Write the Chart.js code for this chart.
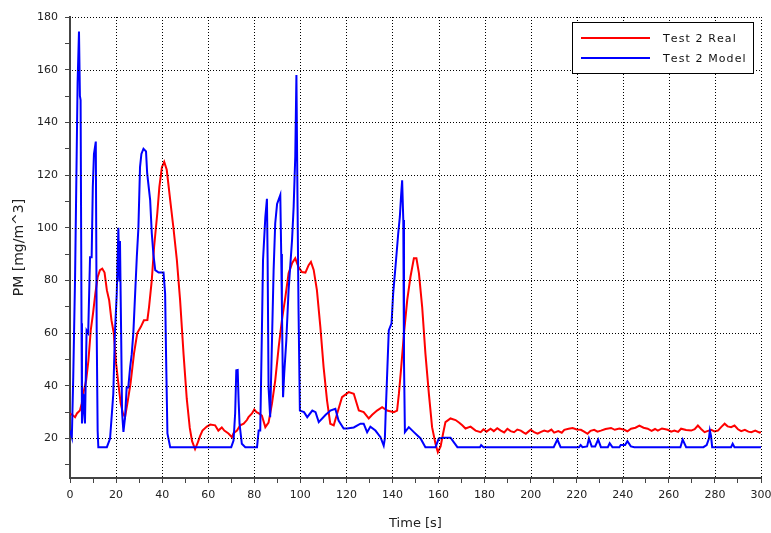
<!DOCTYPE html>
<html>
<head>
<meta charset="utf-8">
<script src="https://cdn.jsdelivr.net/npm/chart.js@4"></script>
<style>
  body { margin: 0; background: #fff; }
</style>
</head>
<body>
<canvas id="pmChart" width="771" height="533"></canvas>
<script>
// Test 2 Real (red)
const realTime = [0,1,2.2,3,4.3,5.1,6,7,8,9,10,11,12,13,14,15,16,17,18,19,20,21,22,23,23.9,25,26.3,27.8,29.2,30.7,32.1,33.6,34.3,35.5,36.5,37.9,38.8,39.9,40.9,42,43.5,44.9,46.4,47.8,49.3,50.7,52,53,54.3,55.5,56.5,57.5,59.4,60.9,63,64.4,65.9,67,68.8,70.3,71,72.5,73.9,75.4,76.8,77.5,79,80,81,82,83.3,84.8,86.2,87.7,89.1,90.6,92,93.5,94.9,96.4,97.8,99.2,100.7,102.2,103.6,104.6,105.8,107.2,108.7,110.1,111.6,113,114.5,116,118.1,121,123.2,125.4,127.5,129.7,131.2,133.3,135.5,137.7,140.6,142,142.8,143.8,145,146.4,147.8,149.3,150.4,151.5,152.9,154.3,155.8,157.2,158.7,159.7,160.9,162,163,165.2,167.4,169,170.3,171.7,173.9,176.1,178.3,179.5,180.8,182.6,184,185.5,187,188.5,189.9,191.3,192.8,194.2,195.7,197,197.9,199,200,201.5,203,204.5,205.9,207.5,209,210.2,212,213.5,214.6,216.5,218.2,220,221.8,223.2,224.7,226,227.6,229,230.5,232.5,234.9,236.5,238.5,240.7,242,243.6,245.5,247.2,249,250.8,252.5,254,255.2,257,259.5,261,262.4,264,265.3,267.5,269.7,271.2,272.6,274,275.5,277,278.4,279.8,281.3,282.8,284.2,285.5,287,288.5,290,291.4,293,294.5,295.8,297.5,299.4,300];
const realPM = [29.4,29,28.1,29.5,30.6,33.3,38,42,49.6,61,67.5,75,81.2,83.9,84.5,83,76.3,72.5,64.9,60,48.5,40.9,33.3,29.5,28.1,33.8,41,52.3,60,62.3,64.9,65,69.8,80,92.6,105.5,115.5,123,125,122,110.5,100,87.7,72.5,52,35,24,19,16,18.5,21,23,24.5,25.3,25,23,24.2,23,21.9,20.5,22,23,25,25.6,27,28.1,29.5,31,30,29.5,28.7,24.3,26,33.3,42,54.7,64.9,73.7,82.7,86.5,88.4,85.1,83.2,83,85.8,87,84,76.3,62.3,47.1,34.4,25.6,25,29.5,35.7,37.6,37,30.6,30,27.6,29,30.6,31.9,30.6,30,30.6,37,47.1,59.9,72.5,81.3,88.4,88.4,82.7,69.9,52.3,37,24.3,17.9,14.8,17,22,26.2,27.6,27,26,25,23.8,24.5,23,22.4,23.5,22.6,23.7,22.8,23.9,23,22.3,23.7,22.8,22.4,23.4,23,22.2,21.8,22.6,23.3,22.4,21.8,22.5,23,22.6,23.4,22.2,22.8,22.2,23.3,23.7,24,23.4,23.3,22.6,21.8,22.9,23.3,22.6,23,23.6,24,23.3,23.8,23.3,22.7,23.7,24.1,24.9,24.1,23.7,22.9,23.6,23,23.8,23.3,22.6,23,22.5,23.7,23.2,23,23.5,24.9,23.6,22.4,22.9,23.3,22.7,23,24.4,25.6,24.6,24.3,24.9,23.5,22.8,23.3,22.6,22.4,23,22.2,22.5];

// Test 2 Model (blue)
const modelTime = [0,0.8,1.4,2.2,2.9,3.3,3.9,4.3,4.6,5,5.2,5.8,6.5,7.2,7.9,8.7,9.4,9.9,10.4,11.2,11.6,12,12.3,16,17.4,18.8,19.5,20.3,21,21.4,21.7,22.2,22.6,23.2,23.9,24.6,25.3,26.1,26.8,27.5,29,29.7,30.4,31,31.9,33,33.5,34.8,35.5,36.2,37,38.5,40.6,41.3,41.7,42.3,43.5,70,71,71.7,72.2,72.8,73.2,73.6,74.6,76.1,81.2,81.9,82.6,83.3,83.8,84.8,85.5,85.8,86.2,86.9,87.7,88.4,89.1,89.9,91.3,91.7,92,92.5,93,93.9,94.9,96.4,97.1,97.8,98.3,98.8,99.2,99.8,101.6,103,105.2,106.6,108,111,112.4,113,115.2,116.6,118.8,120.3,123.2,126.1,127.5,129,130.4,132.6,134.8,136.2,136.7,137,137.7,138.4,139.6,140.3,141.3,142.5,143.2,143.8,144.2,144.7,145,145.4,147.1,149.3,152.2,154.3,158.7,160.1,162.3,165.2,168.2,178,178.5,179.5,210,211.6,213,221,221.7,222.5,224.5,225.3,226.5,228,229.3,230.5,233.5,234.3,235.5,238.5,239.1,241,242,243.5,245,265,266,267.5,275,276.4,277.4,277.8,278.3,278.8,287,287.7,288.5,300];
const modelPM = [23,20.5,43,81,128,155,174.5,150,148.5,63.7,25.7,37,25.7,61,60,88.8,88.8,115.5,128,132.7,60,23,16.7,16.7,20,37,60,75,100,80,95,60,30,22.5,28,39.4,39.4,47,52,60,88.8,100,123,128,130,129,120.7,110.5,98,90,83.9,83,83,75,52,21.9,16.7,16.7,19.2,29.5,45.9,46,34.4,25.6,18,16.7,16.7,23,23,60,87.7,104,111,87.7,39.5,28.1,57.3,83.9,101.7,109,112.4,90,70,35.7,44.6,57,76.3,95.3,108,127,158,108,70,30.6,30,28.1,30.6,30,26.2,29,30,30.6,31.3,26.8,23.8,23.8,24.2,25.6,25.6,22.4,24.5,23,20.5,17.3,20,28.1,44.6,61,63.7,75,85.1,97.8,104.1,113,118,102.9,49.6,22.4,24.3,22.4,20,16.7,16.7,20,20.3,20.3,16.7,16.7,17.5,16.7,16.7,19.6,16.7,16.7,17.5,16.7,17,20,17,17,19.6,16.7,16.7,18.2,16.7,16.7,17.5,17.5,19,17,16.7,16.7,19.6,16.7,16.7,17.5,20,23,21,16.7,16.7,18,16.7,16.7];

const xTicks = [0,10,20,30,40,50,60,70,80,90,100,110,120,130,140,150,160,170,180,190,200,210,220,230,240,250,260,270,280,290,300];
const yTicks = [10,20,30,40,50,60,70,80,90,100,110,120,130,140,150,160,170,180];

const labels = ["Test 2 Real", "Test 2 Model"];
const lineColors = ["#ff0000", "#0000ff"];

function toPoints(ts, vs) {
  return ts.map(function(t, i){ return {x: t, y: vs[i]}; });
}

// dotted grid at every 20, placed with the chart's own scales
const dotGrid = {
  id: "dotGrid",
  afterDatasetsDraw: function(chart) {
    const ctx = chart.ctx;
    const area = chart.chartArea;
    const xs = chart.scales.x, ys = chart.scales.y;
    ctx.save();
    ctx.globalCompositeOperation = "source-over";
    ctx.globalAlpha = 1;
    ctx.fillStyle = "#000";
    xTicks.forEach(function(v){
      if (v % 20 !== 0 || v === 0) return;
      const px = Math.round(xs.getPixelForValue(v));
      for (let y = Math.round(area.top); y < area.bottom - 1; y += 3) ctx.fillRect(px, y, 1, 1);
    });
    yTicks.forEach(function(v){
      if (v % 20 !== 0) return;
      const py = Math.round(ys.getPixelForValue(v));
      for (let x = Math.round(area.left) + 2; x < area.right; x += 3) ctx.fillRect(x, py, 1, 1);
    });
    ctx.restore();
  }
};

// legend box drawn inside the plot, top right
const boxLegend = {
  id: "boxLegend",
  afterDraw: function(chart) {
    const ctx = chart.ctx;
    const x0 = 572, y0 = 22, w = 181, h = 51;
    ctx.save();
    ctx.fillStyle = "#fff";
    ctx.fillRect(x0, y0, w, h);
    ctx.strokeStyle = "#000";
    ctx.lineWidth = 1;
    ctx.strokeRect(x0 + 0.5, y0 + 0.5, w, h);
    ctx.font = "11px 'DejaVu Sans'";
    ctx.textBaseline = "middle";
    chart.data.datasets.forEach(function(ds, i){
      const y = y0 + 16 + i * 20;
      ctx.strokeStyle = ds.borderColor;
      ctx.lineWidth = 2;
      ctx.beginPath();
      ctx.moveTo(x0 + 9, y);
      ctx.lineTo(x0 + 78, y);
      ctx.stroke();
      ctx.fillStyle = "#111";
      ctx.fillText(ds.label.split("").join(String.fromCharCode(8202)), x0 + 91, y + 1);
    });
    ctx.restore();
  }
};

new Chart(document.getElementById("pmChart"), {
  type: "line",
  data: {
    datasets: [
      { label: labels[0], data: toPoints(realTime, realPM), borderColor: lineColors[0], borderWidth: 2, pointRadius: 0, tension: 0, order: 1 },
      { label: labels[1], data: toPoints(modelTime, modelPM), borderColor: lineColors[1], borderWidth: 2, pointRadius: 0, tension: 0, order: 0 }
    ]
  },
  options: {
    responsive: false,
    animation: false,
    layout: { padding: { top: 17, right: 10, left: 0, bottom: 0 } },
    plugins: { legend: { display: false }, tooltip: { enabled: false } },
    scales: {
      x: {
        type: "linear",
        min: 0, max: 300,
        afterBuildTicks: function(scale){ scale.ticks = xTicks.map(function(v){ return {value: v}; }); },
        afterFit: function(scale){ scale.height = 55; scale.paddingRight = 0; },
        ticks: {
          color: "#222", font: { family: "DejaVu Sans", size: 11 }, padding: 6, maxRotation: 0, autoSkip: false,
          callback: function(v){ return v % 20 === 0 ? v : ""; }
        },
        grid: { color: "rgba(0,0,0,0)", lineWidth: 1, tickColor: "#444", tickLength: 5 },
        border: { color: "#444", width: 2 },
        title: { display: true, text: "Time [s]", color: "#222", font: { family: "DejaVu Sans", size: 13 }, padding: { top: 0, bottom: 2 } }
      },
      y: {
        type: "linear",
        min: 5, max: 180,
        afterBuildTicks: function(scale){ scale.ticks = yTicks.map(function(v){ return {value: v}; }); },
        afterFit: function(scale){ scale.width = 70; },
        ticks: {
          color: "#222", font: { family: "DejaVu Sans", size: 11 }, padding: 7, autoSkip: false,
          callback: function(v){ return v % 20 === 0 ? v : ""; }
        },
        grid: { color: "rgba(0,0,0,0)", lineWidth: 1, tickColor: "#444", tickLength: 5 },
        border: { color: "#444", width: 2 },
        title: { display: true, text: "PM [mg/m^3]", color: "#222", font: { family: "DejaVu Sans", size: 14 }, padding: { top: 11, bottom: 0 } }
      }
    }
  },
  plugins: [dotGrid, boxLegend]
});
</script>
</body>
</html>
